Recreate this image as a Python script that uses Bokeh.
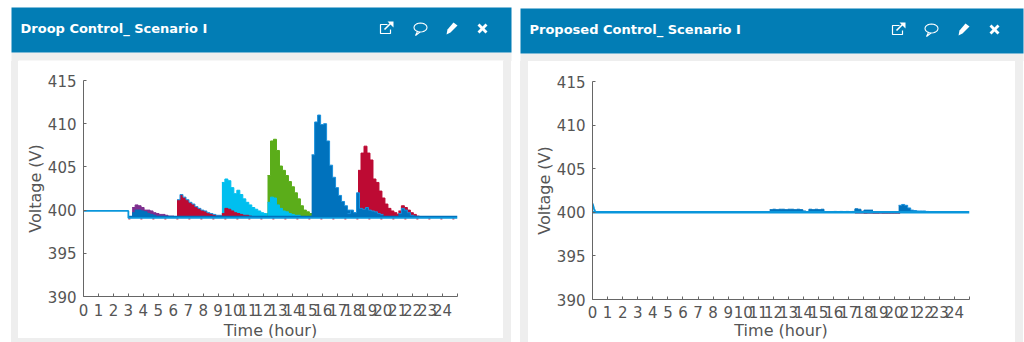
from bokeh.plotting import figure
from bokeh.layouts import row, column
from bokeh.models import FixedTicker, Range1d, Spacer
from bokeh.core.properties import value
from bokeh.embed import file_html
from bokeh.resources import INLINE
import math

STEP = 0.2
HOURS = list(range(0, 26))
VOLTS = [390, 395, 400, 405, 410, 415]
TITLES = ["Droop Control_ Scenario I", "Proposed Control_ Scenario I"]
X_LABEL = "Time (hour)"
Y_LABEL = "Voltage (V)"

# --- droop scenario: voltage readings, one burst per start hour, spaced 0.2 h
purple_start = 3.25
purple_v = [400.3, 400.6, 400.5, 400.3, 400.0, 400.0, 399.9, 399.7, 399.6, 399.5, 399.5, 399.4, 399.3, 399.3]
blue_a_start = 3.25
blue_a_v = [399.7, 400.0, 400.0, 399.9, 399.8, 399.6, 399.5, 399.4]
red_a_start = 6.25
red_a_v = [401.2, 401.8, 401.5, 401.2, 400.9, 400.7, 400.4, 400.2, 400.0, 399.9, 399.7, 399.6, 399.5, 399.4, 399.4, 399.3]
red_b_start = 9.25
red_b_v = [399.6, 400.2, 400.1, 399.9, 399.7, 399.6, 399.5, 399.4, 399.4, 399.3]
cyan_a_start = 9.25
cyan_a_v = [403.2, 403.6, 403.4, 402.6, 401.9, 402.3, 401.8, 401.3, 400.9, 400.6, 400.3, 400.1, 399.9, 399.7, 399.6, 399.6, 399.5, 399.4]
green_start = 12.3
green_v = [404.0, 408.0, 408.2, 406.9, 405.1, 404.6, 404.0, 403.3, 402.7, 402.0, 401.3, 400.5, 400.0, 399.8, 399.6]
cyan_b_start = 12.3
cyan_b_v = [400.9, 401.5, 401.4, 400.6, 400.2, 399.9, 399.8, 399.6, 399.5, 399.4, 399.4]
blue_b_start = 15.25
blue_b_v = [406.4, 410.2, 411.0, 409.9, 410.0, 408.0, 405.2, 403.8, 402.6, 401.7, 401.0, 400.5, 400.0, 399.8, 399.7]
blue_c_start = 17.65
blue_c_v = [399.6, 400.0, 399.7, 402.0, 400.2, 400.1, 400.3, 400.0, 399.9, 399.8, 399.6, 399.5]
red_c_start = 18.35
red_c_v = [404.6, 406.6, 407.4, 406.6, 405.8, 403.6, 403.2, 402.2, 401.4, 400.7, 400.2, 399.9, 399.7, 399.5, 399.4, 399.3]
red_d_start = 21.05
red_d_v = [399.9, 400.5, 400.3, 400.0, 399.7, 399.5, 399.3]
blue_d_start = 21.05
blue_d_v = [399.6, 400.2, 400.0, 399.7, 399.4, 399.3]
droop_idle_t = [0, 3.0, 3.0, 25]
droop_idle_v = [399.9, 399.9, 399.1, 399.1]
droop_tail_t = [3.0, 25]
droop_tail_v = [399.25, 399.25]

# --- proposed scenario
prop_base_t = [0, 25]
prop_base_v = [400, 400]
prop_spike_t = [0, 0.1, 0.2]
prop_spike_v = [401.0, 400.4, 400.0]
prop_a_start = 11.75
prop_a_v = [400.3, 400.35, 400.3, 400.35, 400.35, 400.3, 400.35, 400.35, 400.3, 400.35, 400.3, 400.15,
            400.05, 400.35, 400.3, 400.35, 400.3, 400.35, 400.05]
prop_b_start = 15.8
prop_b_v = [400.05, 400.1, 400.05, 400.1, 400.05, 400.1, 400.05, 400.1, 400.4, 400.35, 400.1, 400.25, 400.25, 400.25]
prop_c_start = 20.3
prop_c_v = [400.8, 400.9, 400.8, 400.5, 400.25, 400.2, 400.15, 400.15, 400.15, 400.1]
prop_red_start = 17.4
prop_red_v = [400.1, 400.2, 400.1, 399.9, 399.95, 399.95, 399.9, 399.9, 399.95, 399.9, 399.9, 399.9, 399.9, 399.9, 399.9]

BLUE, BLUE_EDGE = "#0072BD", "#1A90DC"
PURPLE, RED, CYAN, GREEN = "#7E2F8E", "#BD0A33", "#00BFEF", "#5BAD1A"
LINE = "#0A96DB"
HEAD, PANEL, INK, AXIS = "#027DB5", "#EEEEEE", "#555555", "#666666"
WHITE = "#FFFFFF"
HEAD_H = 61


def times(start, vals):
    return [start + i * STEP for i in range(len(vals) + 1)]


def burst(p, start, vals, color, edge=None, floor=399.1):
    t = times(start, vals)
    v = vals + [vals[-1]]
    p.varea_step(t, [floor] * len(t), v, step_mode="after", fill_color=color)
    p.step(t, v, mode="after", line_color=edge or color, line_width=1)


def header():
    h = figure(width=1024, height=HEAD_H, x_range=Range1d(0, 1024), y_range=Range1d(HEAD_H, 0),
               output_backend="svg", toolbar_location=None, x_axis_type=None, y_axis_type=None,
               min_border=0, outline_line_color=None, background_fill_color=WHITE, border_fill_color=WHITE)
    h.grid.visible = False
    panels = [(11, 511, 7, 52, 18, 503, 60, 20, 28, TITLES[0], (386, 420, 451, 482)),
              (520, 1023, 8, 53, 528, 1015, 61, 529, 29, TITLES[1], (898, 931, 963, 994))]
    for l, r, t, b, wl, wr, wt, tx, y, title, icons in panels:
        h.quad(left=[l], right=[r], top=[b], bottom=[HEAD_H], fill_color=PANEL, line_color=None)
        h.quad(left=[wl], right=[wr], top=[wt], bottom=[HEAD_H], fill_color=WHITE, line_color=None)
        h.quad(left=[l], right=[r], top=[t], bottom=[b], fill_color=HEAD, line_color=None)
        h.text(x=[tx], y=[y], text=[title], text_color=WHITE, text_font=value("DejaVu Sans"),
               text_font_size="13px", text_font_style="bold", text_baseline="middle")
        a, c, e, d = icons
        # open-in-new icon
        h.line([a + 1, a - 6, a - 6, a + 4, a + 4], [y - 4, y - 4, y + 5, y + 5, y + 1], line_color=WHITE, line_width=1.2)
        h.line([a - 2, a + 5], [y + 1, y - 6], line_color=WHITE, line_width=1.6)
        h.patch([a + 1, a + 7, a + 7], [y - 7, y - 7, y - 1], fill_color=WHITE, line_color=None)
        # speech bubble
        h.line([c + 6.5 * math.cos(k * math.pi / 10) for k in range(21)],
               [y - 1 + 4.5 * math.sin(k * math.pi / 10) for k in range(21)], line_color=WHITE, line_width=1.1)
        h.line([c - 3, c - 5, c - 0.5], [y + 3, y + 7, y + 3.5], line_color=WHITE, line_width=1.1)
        # pencil
        h.patch([e + 2, e + 6, e - 1, e - 5, e - 4], [y - 6, y - 3, y + 4, y + 6, y + 1], fill_color=WHITE, line_color=None)
        # close cross
        h.patch([d - 5, d - 3, d, d + 3, d + 5, d + 2, d + 5, d + 3, d, d - 3, d - 5, d - 2],
                [y - 3, y - 5, y - 2, y - 5, y - 3, y, y + 3, y + 5, y + 2, y + 5, y + 3, y],
                fill_color=WHITE, line_color=None)
    return h


def make(width, height, left, right, top, bottom, tick_gap, label_gap):
    p = figure(width=width, height=height, x_range=Range1d(0, 25), y_range=Range1d(390, 415),
               output_backend="svg", toolbar_location=None, min_border_left=left, min_border_right=right,
               min_border_top=top, min_border_bottom=bottom, border_fill_color=WHITE,
               background_fill_alpha=0, outline_line_color=None)
    p.grid.visible = False
    for ax, ticks, lab in ((p.xaxis[0], HOURS, X_LABEL), (p.yaxis[0], VOLTS, Y_LABEL)):
        ax.ticker = FixedTicker(ticks=ticks)
        ax.axis_label = lab
        ax.axis_label_text_font = "DejaVu Sans"
        ax.axis_label_text_font_style = "normal"
        ax.axis_label_text_font_size = "16px"
        ax.axis_label_text_color = INK
        ax.major_label_text_font = "DejaVu Sans"
        ax.major_label_text_font_size = "15px"
        ax.major_label_text_color = INK
        ax.axis_line_color = AXIS
        ax.major_tick_line_color = AXIS
        ax.major_tick_in = 3
        ax.major_tick_out = 0
        ax.minor_tick_line_color = None
    p.xaxis[0].major_label_overrides = {25: ""}
    p.xaxis[0].major_label_standoff = tick_gap
    p.xaxis[0].axis_label_standoff = label_gap
    p.yaxis[0].major_label_standoff = 7
    p.yaxis[0].axis_label_standoff = 0
    return p


def gap(width, height, color):
    return Spacer(width=width, height=height, styles={"background-color": color})


# Left panel
p1 = make(485, 281, 65, 46, 19, 45, 7, 2)
burst(p1, purple_start, purple_v, PURPLE)
burst(p1, blue_a_start, blue_a_v, BLUE)
burst(p1, cyan_a_start, cyan_a_v, CYAN)
burst(p1, red_a_start, red_a_v, RED, BLUE_EDGE)
burst(p1, red_b_start, red_b_v, RED)
burst(p1, green_start, green_v, GREEN)
burst(p1, cyan_b_start, cyan_b_v, CYAN)
burst(p1, red_c_start, red_c_v, RED)
burst(p1, blue_b_start, blue_b_v, BLUE, BLUE_EDGE)
burst(p1, blue_c_start, blue_c_v, BLUE, BLUE_EDGE)
burst(p1, red_d_start, red_d_v, RED)
burst(p1, blue_d_start, blue_d_v, BLUE, BLUE_EDGE)
p1.line(droop_idle_t[2:], [v - 0.12 for v in droop_idle_v[2:]], line_color=RED, line_width=1, line_dash="2 10")
p1.line(droop_tail_t, droop_tail_v, line_color=BLUE, line_width=1.5)
p1.line(droop_idle_t, droop_idle_v, line_color=LINE, line_width=1.8)

# Right panel
p2 = make(487, 281, 64, 46, 20, 43, 6, 0)
burst(p2, prop_red_start, prop_red_v, RED, floor=399.85)
burst(p2, prop_a_start, prop_a_v, BLUE, floor=400)
burst(p2, prop_b_start, prop_b_v, BLUE, floor=400)
burst(p2, prop_c_start, prop_c_v, BLUE, BLUE_EDGE, floor=400)
p2.line(prop_spike_t, prop_spike_v, line_color=LINE, line_width=2)
p2.line(prop_base_t, prop_base_v, line_color=LINE, line_width=2.4)

BODY = 281
strip = Spacer(width=485, height=4, margin=(-4, 0, 0, 0), styles={"background-color": PANEL})
page = column(header(),
              row(gap(11, BODY, WHITE), gap(7, BODY, PANEL),
                  column(p1, strip),
                  gap(8, BODY, PANEL), gap(9, BODY, WHITE), gap(8, BODY, PANEL),
                  p2, gap(8, BODY, PANEL), gap(1, BODY, WHITE)))
open("out.html", "w").write(file_html(page, INLINE))
